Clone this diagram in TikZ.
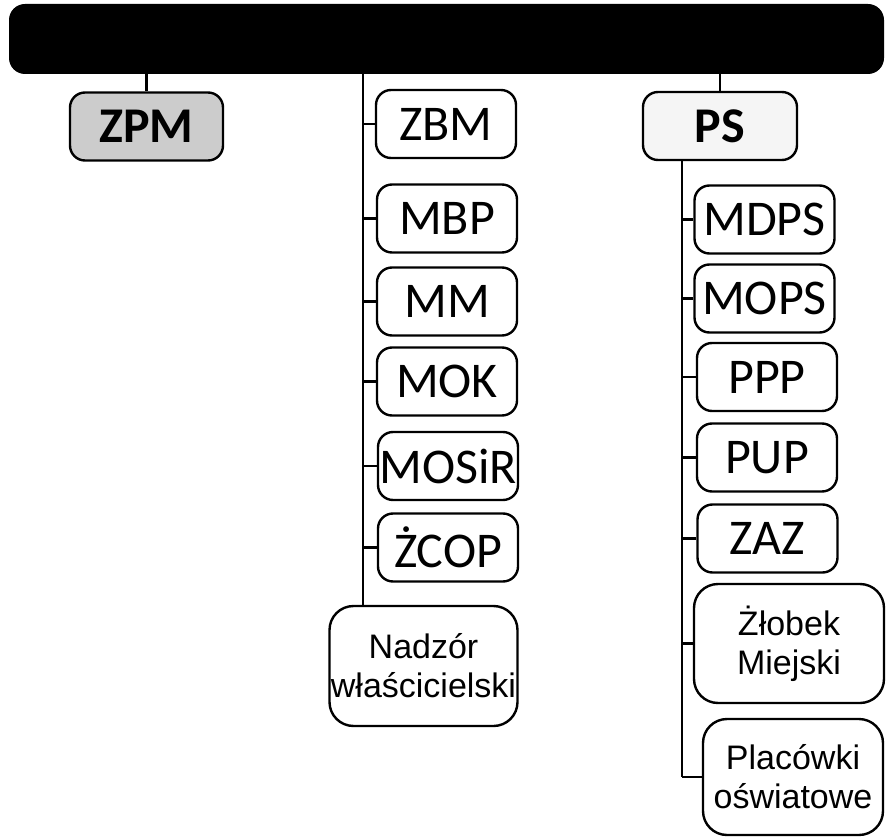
\documentclass[tikz,border=0pt]{standalone}
\usepackage{fontspec}
\usepackage{tikz}
\usepackage{xcolor}
\newfontfamily\carlito{Carlito}
\newfontfamily\arialike{Liberation Sans}

\begin{document}
\begin{tikzpicture}[x=1pt,y=-1pt,
  unit/.style={draw,line width=2.4pt,rounded corners=15pt,inner sep=0pt,
    minimum width=140pt,minimum height=68pt,font=\carlito\fontsize{50}{50}\selectfont},
  wide/.style={unit,rounded corners=24pt,minimum width=188pt,minimum height=119pt,align=center,
    font=\arialike\fontsize{34}{39}\selectfont},
  link/.style={line width=2.4pt}]
\useasboundingbox (0,0) rectangle (886,837);
\node[fill=black,rounded corners=16pt,minimum width=875pt,minimum height=70pt,inner sep=0pt] (bar) at (446.5,39) {};
\node[unit,fill=gray!40,minimum width=153pt,font=\carlito\bfseries\fontsize{50}{50}\selectfont] (zpm) at (146.5,126.5) {ZPM};
\node[unit,fill=gray!8,minimum width=154pt,font=\carlito\bfseries\fontsize{50}{50}\selectfont] (ps) at (720,126) {PS};
\node[unit] (zbm) at (446,124) {ZBM};
\node[unit] (mbp) at (447,218.5) {MBP};
\node[unit] (mm) at (447,301.5) {MM};
\node[unit] (mok) at (447,381.5) {MOK};
\node[unit] (mosir) at (448,466) {MOSiR};
\node[unit] (zcop) at (448,547.5) {ŻCOP};
\node[wide,minimum height=120pt] (nadzor) at (423.5,666) {Nadzór\\właścicielski};
\node[unit] (mdps) at (764.5,219.5) {MDPS};
\node[unit] (mops) at (764.5,298.5) {MOPS};
\node[unit] (ppp) at (767,377) {PPP};
\node[unit] (pup) at (767,457.5) {PUP};
\node[unit] (zaz) at (767.5,538.5) {ZAZ};
\node[wide,minimum width=190pt] (zlobek) at (789,643.5) {Żłobek\\Miejski};
\node[wide,minimum width=180pt,minimum height=116pt] (plac) at (793,777) {Placówki\\oświatowe};
\coordinate (m) at (363,0);
\coordinate (r) at (682,0);
\draw[link] (zpm.north |- bar.south) -- (zpm.north);
\draw[link] (ps.north |- bar.south) -- (ps.north);
\draw[link] (m |- bar.south) -- (m |- nadzor.north);
\draw[link] (r |- ps.south) -- (r |- plac.west);
\foreach \n in {zbm,mbp,mm,mok,mosir,zcop} \draw[link] (m |- \n.west) -- (\n.west);
\foreach \n in {mdps,mops,ppp,pup,zaz,zlobek,plac} \draw[link] (r |- \n.west) -- (\n.west);
\end{tikzpicture}
\end{document}
